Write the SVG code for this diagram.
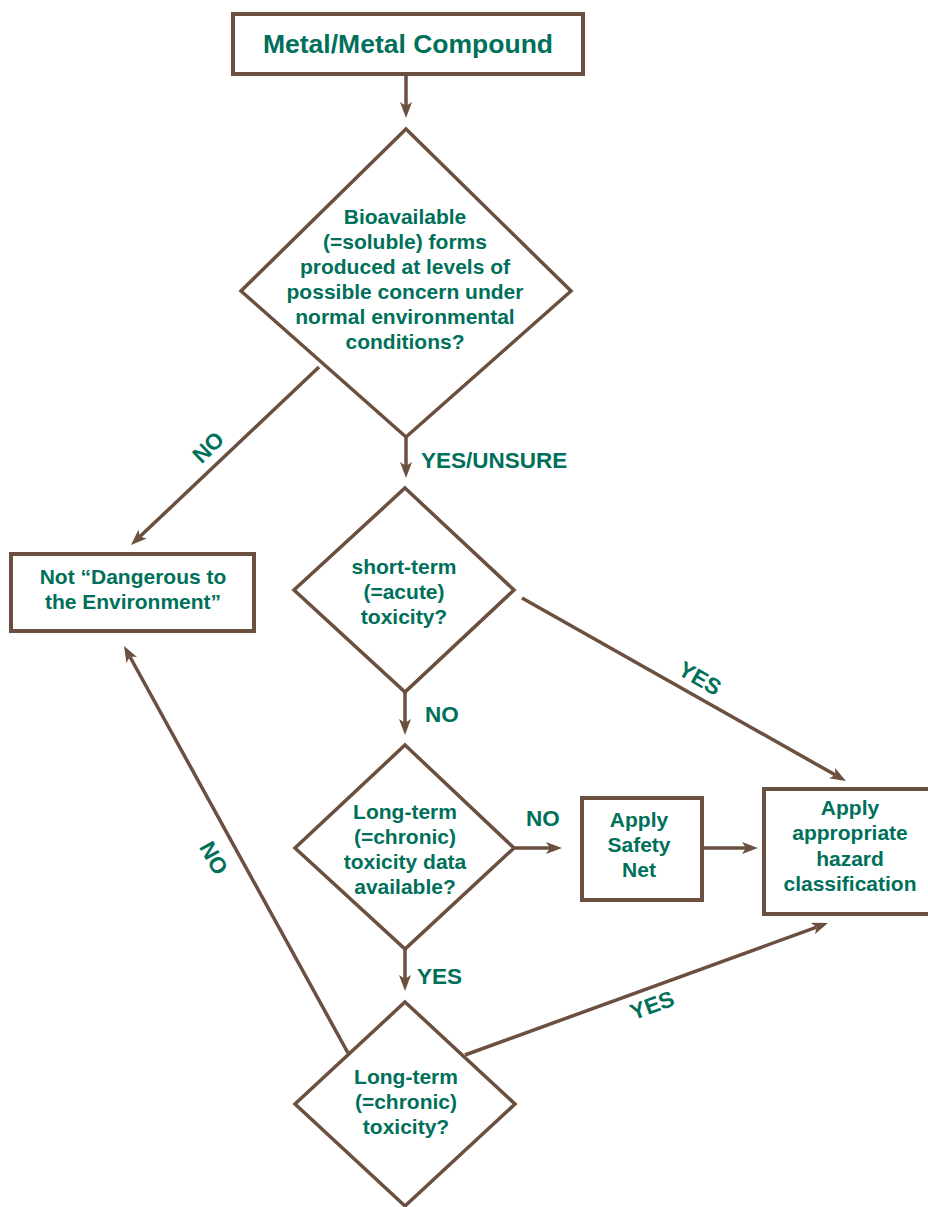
<svg xmlns="http://www.w3.org/2000/svg" width="928" height="1207" viewBox="0 0 928 1207">
<style>
.box{fill:#fff;stroke:#6b4f3f;stroke-width:4}
.dia{fill:#fff;stroke:#6b4f3f;stroke-width:3.5;stroke-linejoin:miter}
.ln{fill:none;stroke:#6b4f3f;stroke-width:3.5}
.t{font-family:"Liberation Sans",Arial,Helvetica,sans-serif;font-weight:bold;font-size:21px;fill:#00705a;text-anchor:middle}
.lbl{font-family:"Liberation Sans",Arial,Helvetica,sans-serif;font-weight:bold;font-size:22.5px;fill:#00705a}
</style>
<defs>
<marker id="ah" viewBox="0 0 16 12" refX="4" refY="6" markerWidth="16" markerHeight="12" markerUnits="userSpaceOnUse" orient="auto">
<path d="M0,0 L16,6 L0,12 L4,6 Z" fill="#6b4f3f"/>
</marker>
</defs>
<g id="connectors">
<line class="ln" x1="406" y1="74" x2="406" y2="106" marker-end="url(#ah)"/>
<line class="ln" x1="406" y1="437" x2="406" y2="466" marker-end="url(#ah)"/>
<line class="ln" x1="319" y1="367" x2="139.7" y2="536.8" marker-end="url(#ah)"/>
<line class="ln" x1="405" y1="692" x2="405" y2="723" marker-end="url(#ah)"/>
<line class="ln" x1="522" y1="598" x2="835.5" y2="775.1" marker-end="url(#ah)"/>
<line class="ln" x1="514" y1="848" x2="550" y2="848" marker-end="url(#ah)"/>
<line class="ln" x1="702" y1="848" x2="746" y2="848" marker-end="url(#ah)"/>
<line class="ln" x1="405" y1="949" x2="405" y2="979" marker-end="url(#ah)"/>
<line class="ln" x1="465" y1="1055" x2="816.7" y2="927.1" marker-end="url(#ah)"/>
<line class="ln" x1="348" y1="1053" x2="129.8" y2="656.5" marker-end="url(#ah)"/>
<text class="lbl" x="421" y="468">YES/UNSURE</text>
<text class="lbl" text-anchor="middle" transform="translate(208,447) rotate(-44)" y="8">NO</text>
<text class="lbl" text-anchor="middle" transform="translate(700,678) rotate(30)" y="8">YES</text>
<text class="lbl" x="425" y="722">NO</text>
<text class="lbl" x="526" y="826">NO</text>
<text class="lbl" x="417" y="984">YES</text>
<text class="lbl" text-anchor="middle" transform="translate(652,1005) rotate(-20)" y="8">YES</text>
<text class="lbl" text-anchor="middle" transform="translate(214,858) rotate(61)" y="8">NO</text>
</g>
<g id="start">
<rect class="box" x="233" y="14" width="350" height="60"/>
<text class="t" x="408" y="53" style="font-size:26.5px">Metal/Metal Compound</text>
</g>
<g id="bioavailable">
<polygon class="dia" points="406,129 571,291 406,437 241,291"/>
<text class="t" x="405" y="224">Bioavailable</text>
<text class="t" x="405" y="249">(=soluble) forms</text>
<text class="t" x="405" y="274">produced at levels of</text>
<text class="t" x="405" y="299">possible concern under</text>
<text class="t" x="405" y="324">normal environmental</text>
<text class="t" x="405" y="349">conditions?</text>
</g>
<g id="not-dangerous">
<rect class="box" x="11" y="554" width="243" height="77"/>
<text class="t" x="133" y="584">Not “Dangerous to</text>
<text class="t" x="133" y="609">the Environment”</text>
</g>
<g id="short-term">
<polygon class="dia" points="405,488 514,590 405,692 294,590"/>
<text class="t" x="404" y="574">short-term</text>
<text class="t" x="404" y="599">(=acute)</text>
<text class="t" x="404" y="624">toxicity?</text>
</g>
<g id="long-term-data">
<polygon class="dia" points="405,745 514,848 405,949 295,848"/>
<text class="t" x="405" y="819">Long-term</text>
<text class="t" x="405" y="844">(=chronic)</text>
<text class="t" x="405" y="869">toxicity data</text>
<text class="t" x="405" y="894">available?</text>
</g>
<g id="safety-net">
<rect class="box" x="582" y="798" width="120" height="102"/>
<text class="t" x="639" y="827">Apply</text>
<text class="t" x="639" y="852">Safety</text>
<text class="t" x="639" y="877">Net</text>
</g>
<g id="hazard">
<rect class="box" x="764" y="789" width="200" height="125"/>
<text class="t" x="850" y="815">Apply</text>
<text class="t" x="850" y="840">appropriate</text>
<text class="t" x="850" y="866">hazard</text>
<text class="t" x="850" y="891">classification</text>
</g>
<g id="long-term">
<polygon class="dia" points="405,1002 515,1104 405,1206 295,1104"/>
<text class="t" x="406" y="1084">Long-term</text>
<text class="t" x="406" y="1109">(=chronic)</text>
<text class="t" x="406" y="1134">toxicity?</text>
</g>
</svg>
